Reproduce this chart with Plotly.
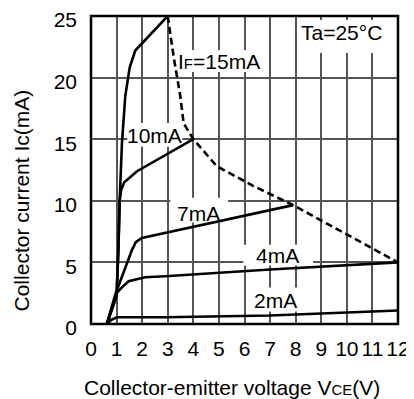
import plotly.graph_objects as go

# ---- data ----
vce_15mA = [0.62, 1.0, 1.07, 1.12, 1.21, 1.34, 1.51, 1.73, 3.0]
ic_15mA = [0, 2.3, 6.0, 10.0, 14.7, 18.5, 20.8, 22.2, 25.0]

vce_10mA = [0.62, 1.0, 1.07, 1.12, 1.18, 1.3, 1.8, 4.0]
ic_10mA = [0, 2.3, 6.0, 10.0, 10.9, 11.5, 12.4, 15.0]

vce_7mA = [0.62, 0.95, 1.6, 1.75, 1.99, 7.9]
ic_7mA = [0, 2.4, 6.0, 6.65, 6.98, 9.65]

vce_4mA = [0.62, 1.0, 1.2, 1.47, 2.12, 2.9, 7.0, 12.0]
ic_4mA = [0, 2.5, 2.95, 3.47, 3.8, 3.87, 4.42, 5.0]

vce_2mA = [0.62, 0.8, 1.02, 2.9, 7.0, 12.0]
ic_2mA = [0, 0.35, 0.55, 0.55, 0.69, 1.1]

vce_limit = [3.0, 3.23, 3.49, 3.62, 4.0, 4.92, 6.35, 7.9, 12.0]
ic_limit = [25.0, 21.7, 18.5, 16.3, 15.0, 12.8, 11.2, 9.65, 5.0]

x_ticks = list(range(0, 13))
y_ticks = [0, 5, 10, 15, 20, 25]

FONT = "Liberation Sans, Arial, sans-serif"
FS = 21
GRID = "#555"

fig = go.Figure()
for xs, ys in [(vce_15mA, ic_15mA), (vce_10mA, ic_10mA), (vce_7mA, ic_7mA),
               (vce_4mA, ic_4mA), (vce_2mA, ic_2mA)]:
    fig.add_trace(go.Scatter(x=xs, y=ys, mode="lines",
                             line=dict(color="black", width=2.6),
                             showlegend=False, hoverinfo="skip"))
fig.add_trace(go.Scatter(x=vce_limit, y=ic_limit, mode="lines",
                         line=dict(color="black", width=2.6, dash="7px,4px"),
                         showlegend=False, hoverinfo="skip"))

# white label backgrounds that interrupt the grid (above grid, below curves)
boxes = [
    (8.06, 12.0, 22.0, 24.68),
    (3.29, 6.85, 20.46, 22.24),
    (1.42, 3.57, 14.38, 16.32),
    (3.10, 5.36, 8.23, 10.25),
    (5.95, 8.68, 4.74, 6.44),
    (6.22, 8.18, 1.01, 2.96),
]
for x0, x1, y0, y1 in boxes:
    fig.add_shape(type="rect", xref="x", yref="y", x0=x0, x1=x1, y0=y0, y1=y1,
                  fillcolor="white", line=dict(width=0), layer="between")

# frame
fig.add_shape(type="rect", xref="paper", yref="paper", x0=0, x1=1, y0=0, y1=1,
              line=dict(color="black", width=2.5), fillcolor="rgba(0,0,0,0)",
              layer="above")

labels = [
    (9.80, 23.66, "Ta=25°C"),
    (5.01, 21.27, "I<span style='font-size:15px'>F</span>=15mA"),
    (2.47, 15.28, "10mA"),
    (4.19, 9.01, "7mA"),
    (7.30, 5.57, "4mA"),
    (7.23, 1.92, "2mA"),
]
for x, y, t in labels:
    fig.add_annotation(x=x, y=y, xref="x", yref="y", text=t, showarrow=False,
                       font=dict(family=FONT, size=FS, color="black"),
                       xanchor="center", yanchor="middle")

fig.add_annotation(x=0.459, y=-0.206, xref="paper", yref="paper",
                   text="Collector-emitter voltage V<span style='font-size:15px'>CE</span>(V)",
                   showarrow=False, font=dict(family=FONT, size=FS, color="black"),
                   xanchor="center", yanchor="middle")
fig.add_annotation(x=-0.2248, y=0.401, xref="paper", yref="paper",
                   text="Collector current Ic(mA)", textangle=-90,
                   showarrow=False, font=dict(family=FONT, size=FS, color="black"),
                   xanchor="center", yanchor="middle")

fig.update_layout(
    width=406, height=391,
    margin=dict(l=83, r=16, t=8, b=75, autoexpand=False),
    paper_bgcolor="white", plot_bgcolor="white",
    font=dict(family=FONT, size=FS, color="black"),
    showlegend=False,
)
fig.update_xaxes(range=[0, 12], tickmode="array", tickvals=x_ticks,
                 ticktext=[str(v) for v in x_ticks], automargin=False,
                 showgrid=True, gridcolor=GRID, gridwidth=2,
                 showline=False, zeroline=False, ticklabeloverflow="allow",
                 ticks="", ticklabelstandoff=10,
                 tickfont=dict(family=FONT, size=FS, color="black"))
fig.update_yaxes(range=[0, 25], tickmode="array", tickvals=y_ticks,
                 ticktext=[str(v) for v in y_ticks], automargin=False,
                 showgrid=True, gridcolor=GRID, gridwidth=2,
                 showline=False, zeroline=False, ticklabeloverflow="allow",
                 ticks="", ticklabelstandoff=13, ticklabelshift=4,
                 tickfont=dict(family=FONT, size=FS, color="black"))

fig.write_html("out.html")
